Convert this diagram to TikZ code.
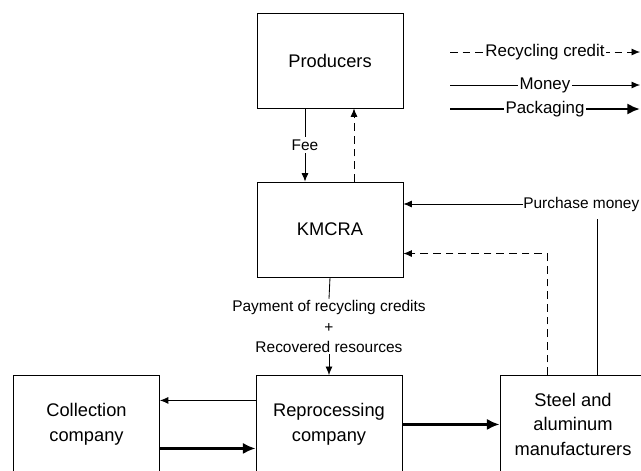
\documentclass[tikz,border=0pt]{standalone}
\usepackage{fontspec}
\setmainfont{Liberation Sans}
\usetikzlibrary{positioning,arrows.meta}
\tikzset{
  unit/.style={draw, rectangle, line width=0.6pt, minimum width=3.65cm, minimum height=2.375cm, align=center, font=\fontsize{13pt}{17.5pt}\selectfont},
  firm/.style={unit, minimum height=2.45cm, anchor=north},
  lbl/.style={font=\fontsize{11pt}{14.5pt}\selectfont, align=center},
  money/.style={-{Latex[length=6pt, width=5pt]}, line width=0.6pt},
  credit/.style={money, dash pattern=on 5.5pt off 3.5pt},
  pack/.style={-{Latex[length=9pt, width=8pt]}, line width=2pt},
}
\begin{document}
\begin{tikzpicture}[x=0.025cm, y=-0.025cm]
        \useasboundingbox (0,0) rectangle (641,470);

        \node[unit] (prod) at (330,60.5) {Producers};
        \node[unit] (kmcra) at (330,229.5) {KMCRA};
        \node[firm] (coll) at (86.5,375) {Collection\\company};
        \node[firm] (repro) at (329,375) {Reprocessing\\company};
        \node[firm] (steel) at (573,375) {Steel and\\aluminum\\manufacturers};

        % legend
        \coordinate (c1) at (450,52);  \coordinate (c2) at (640,52);
        \coordinate (m1) at (450,85);  \coordinate (m2) at (640,85);
        \coordinate (p1) at (450,109); \coordinate (p2) at (640,109);
        \draw[credit] (c1) -- node[lbl, fill=white, inner sep=1pt, font=\fontsize{12pt}{14pt}\selectfont] {Recycling credit} (c2);
        \draw[money] (m1) -- node[lbl, fill=white, inner sep=1pt, font=\fontsize{12pt}{14pt}\selectfont] {Money} (m2);
        \draw[pack] (p1) -- node[lbl, fill=white, inner sep=1pt, font=\fontsize{12pt}{14pt}\selectfont] {Packaging} (p2);

        % producers and KMCRA
        \draw[money] ([xshift=-0.625cm]prod.south) -- node[lbl, fill=white, inner sep=2pt] {Fee} ([xshift=-0.625cm]kmcra.north);
        \draw[credit] ([xshift=0.6cm]kmcra.north) -- ([xshift=0.6cm]prod.south);

        \node[lbl, anchor=west, inner sep=0pt] (pm) at (523,204) {Purchase money};
        \draw[money] (pm.west) -- (pm.west -| kmcra.east);
        \draw[line width=0.6pt] ([xshift=0.6cm]steel.north) -- ([xshift=0.6cm, yshift=-0.2cm]steel.north |- pm.south);
        \draw[credit] ([xshift=-0.65cm]steel.north) |- ([yshift=-0.6cm]kmcra.east);

        \node[lbl, inner sep=1pt] (pay) at (329,326.5) {Payment of recycling credits\\+\\Recovered resources};
        \draw[line width=0.6pt] (kmcra.south) -- (pay.north);
        \draw[money] (pay.south) -- (repro.north);

        % bottom row
        \draw[money] ([yshift=0.6cm]repro.west) -- ([yshift=0.6cm]coll.east);
        \draw[pack] ([yshift=-0.6cm]coll.east) -- ([yshift=-0.6cm]repro.west);
        \draw[pack] (repro.east) -- (steel.west);
    \end{tikzpicture}
\end{document}
